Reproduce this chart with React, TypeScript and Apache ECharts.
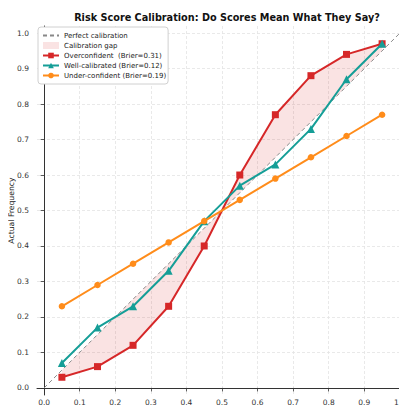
import React, { useEffect, useRef } from "react";
import * as echarts from "echarts";

const binCenters = [0.05, 0.15, 0.25, 0.35, 0.45, 0.55, 0.65, 0.75, 0.85, 0.95];
const overconfident = [0.03, 0.06, 0.12, 0.23, 0.40, 0.60, 0.77, 0.88, 0.94, 0.97];
const wellCalibrated = [0.07, 0.17, 0.23, 0.33, 0.47, 0.57, 0.63, 0.73, 0.87, 0.97];
const underConfident = [0.23, 0.29, 0.35, 0.41, 0.47, 0.53, 0.59, 0.65, 0.71, 0.77];
const diagonal = [[0, 0], [1, 1]];
const tickValues = [0, 0.1, 0.2, 0.3, 0.4, 0.5, 0.6, 0.7, 0.8, 0.9, 1.0];
const xAxisTitle = "Predicted Probability";
const yAxisTitle = "Actual Frequency";

const seriesNames = {
  perfect: "Perfect calibration",
  gap: "Calibration gap",
  over: "Overconfident  (Brier=0.31)",
  well: "Well-calibrated (Brier=0.12)",
  under: "Under-confident (Brier=0.19)",
};

const RED = "#d62728";
const TEAL = "#159e97";
const ORANGE = "#ff8c1a";
const GAP_FILL = "rgba(214,39,40,0.13)";
const FONT = "DejaVu Sans";

export default function App() {
  const ref = useRef<HTMLDivElement>(null);
  useEffect(() => {
    if (!ref.current) return;
    const chart = echarts.init(ref.current, undefined, { renderer: "svg" });
    const pts = (ys: number[]) => binCenters.map((x, i) => [x, ys[i]]);
    const axisCommon = {
      type: "value",
      min: -0.02,
      max: 1.02,
      axisLine: { show: true, lineStyle: { color: "#333", width: 1 } },
      axisTick: {
        show: true,
        length: 3.5,
        lineStyle: { color: "#333", width: 0.8 },
        customValues: tickValues,
      },
      axisLabel: {
        customValues: tickValues,
        formatter: (v: number) => v.toFixed(1),
        color: "#333",
        fontSize: 7.5,
        fontFamily: FONT,
        hideOverlap: false,
      },
      splitLine: {
        show: true,
        lineStyle: { color: "#e3e3e3", type: [3, 2], width: 0.8 },
      },
    };
    chart.setOption({
      animation: false,
      backgroundColor: "#fff",
      title: {
        text: "Risk Score Calibration: Do Scores Mean What They Say?",
        left: 222,
        top: 7,
        textAlign: "center",
        textStyle: { fontSize: 9.7, fontWeight: "bold", fontFamily: FONT, color: "#111" },
      },
      grid: { left: 37, right: 33, top: 26, bottom: 45, containLabel: false, outerBoundsMode: "none" },
      graphic: [
        {
          type: "text",
          x: 222,
          y: 415,
          style: {
            text: xAxisTitle,
            fontSize: 7.7,
            fontFamily: FONT,
            fill: "#222",
            align: "center",
            verticalAlign: "middle",
          },
        },
        {
          type: "text",
          x: 11.7,
          y: 210.5,
          rotation: Math.PI / 2,
          style: {
            text: yAxisTitle,
            fontSize: 7.7,
            fontFamily: FONT,
            fill: "#222",
            align: "center",
            verticalAlign: "middle",
          },
        },
      ],
      legend: {
        orient: "vertical",
        left: 38,
        top: 27,
        padding: [5, 2, 5, 4],
        itemWidth: 16,
        itemHeight: 7,
        itemGap: 3,
        backgroundColor: "#fff",
        borderColor: "#d0d0d0",
        borderWidth: 1,
        borderRadius: 3,
        textStyle: { fontSize: 7, lineHeight: 7, fontFamily: FONT, color: "#222", padding: [0, 0, 0, 0] },
        data: [
          { name: seriesNames.perfect, itemStyle: { opacity: 0 } },
          { name: seriesNames.gap, icon: "rect", itemStyle: { color: GAP_FILL } },
          { name: seriesNames.over },
          { name: seriesNames.well },
          { name: seriesNames.under },
        ],
      },
      xAxis: {
        ...axisCommon,
        axisLabel: { ...axisCommon.axisLabel, margin: 3 },
      },
      yAxis: {
        ...axisCommon,
        axisLabel: { ...axisCommon.axisLabel, margin: 8 },
      },
      series: [
        {
          name: seriesNames.gap,
          type: "custom",
          z: 1,
          itemStyle: { color: GAP_FILL },
          data: pts(overconfident),
          encode: { x: 0, y: 1 },
          renderItem: (params: any, api: any) => {
            if (params.dataIndex !== 0) return null;
            const forward = binCenters.map((x, i) => api.coord([x, overconfident[i]]));
            const backward = binCenters
              .slice()
              .reverse()
              .map((x) => api.coord([x, x]));
            return {
              type: "polygon",
              shape: { points: forward.concat(backward) },
              style: { fill: GAP_FILL, stroke: "none" },
            };
          },
        },
        {
          name: seriesNames.perfect,
          type: "line",
          z: 2,
          data: diagonal,
          symbol: "none",
          lineStyle: { color: "#888", width: 1, type: [4, 3] },
          itemStyle: { color: "#888" },
        },
        {
          name: seriesNames.over,
          type: "line",
          z: 3,
          data: pts(overconfident),
          symbol: "rect",
          symbolSize: 7,
          lineStyle: { color: RED, width: 2 },
          itemStyle: { color: RED },
        },
        {
          name: seriesNames.well,
          type: "line",
          z: 4,
          data: pts(wellCalibrated),
          symbol: "triangle",
          symbolSize: 8,
          lineStyle: { color: TEAL, width: 2 },
          itemStyle: { color: TEAL },
        },
        {
          name: seriesNames.under,
          type: "line",
          z: 5,
          data: pts(underConfident),
          symbol: "circle",
          symbolSize: 6.5,
          lineStyle: { color: ORANGE, width: 2 },
          itemStyle: { color: ORANGE },
        },
      ],
    });
    return () => chart.dispose();
  }, []);
  return (
    <div style={{ width: 407, height: 419, margin: -8, overflow: "hidden", position: "relative" }}>
      <div ref={ref} style={{ width: 440, height: 440 }} />
    </div>
  );
}
